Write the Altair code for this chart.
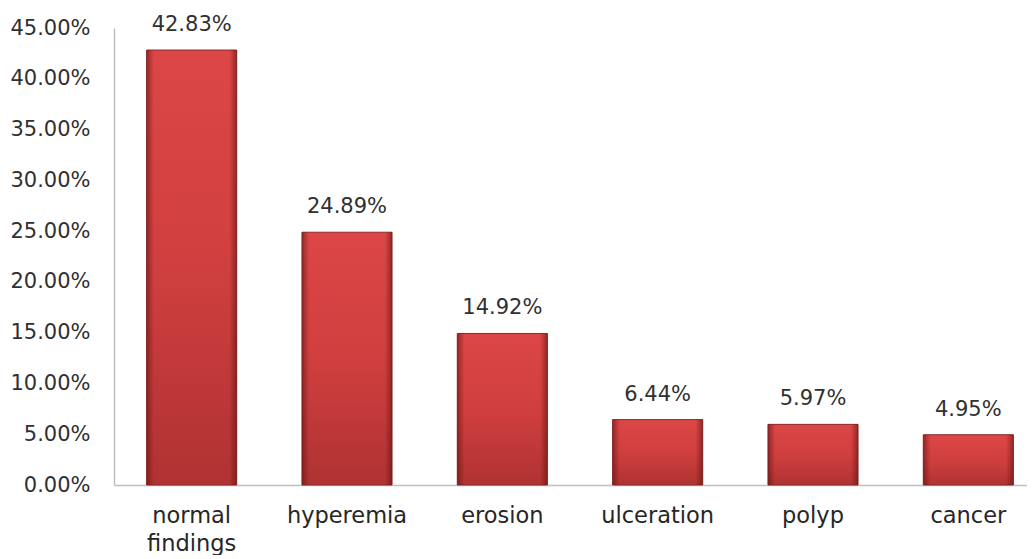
import altair as alt
import pandas as pd

categories = ["normal findings", "hyperemia", "erosion", "ulceration", "polyp", "cancer"]
values = [0.4283, 0.2489, 0.1492, 0.0644, 0.0597, 0.0495]
y_ticks = [0.0, 0.05, 0.10, 0.15, 0.20, 0.25, 0.30, 0.35, 0.40, 0.45]

df = pd.DataFrame({"category": categories, "value": values})

FONT = "DejaVu Sans"

x_enc = alt.X(
    "category:N",
    sort=categories,
    title=None,
    scale=alt.Scale(paddingInner=0.42, paddingOuter=0.21, range=[0, 932]),
    axis=alt.Axis(
        labelAngle=0,
        ticks=False,
        domainColor="#bfbfbf",
        domainWidth=1.5,
        labelFont=FONT,
        labelFontSize=22.5,
        labelColor="#262626",
        labelPadding=19,
        labelLineHeight=28,
        labelExpr="datum.label == 'normal findings' ? ['normal', 'findings'] : datum.label",
    ),
)
y_enc = alt.Y(
    "value:Q",
    title=None,
    scale=alt.Scale(domain=[0, 0.45], nice=False),
    axis=alt.Axis(
        values=y_ticks,
        format=".2%",
        grid=False,
        ticks=False,
        domainColor="#bfbfbf",
        domainWidth=1.5,
        labelFont=FONT,
        labelFontSize=21,
        labelColor="#303030",
        labelPadding=24,
    ),
)

base = alt.Chart(df)

bars = base.mark_bar(
    color=alt.Gradient(
        gradient="linear",
        x1=0, x2=0, y1=0, y2=1,
        stops=[
            alt.GradientStop(color="#dc4646", offset=0),
            alt.GradientStop(color="#d03f3f", offset=0.5),
            alt.GradientStop(color="#b03232", offset=1),
        ],
    ),
    stroke="#8e2a2a",
    strokeWidth=1,
).encode(x=x_enc, y=y_enc)

edges = base.mark_bar(
    color=alt.Gradient(
        gradient="linear",
        x1=0, x2=1, y1=0, y2=0,
        stops=[
            alt.GradientStop(color="rgba(90,15,15,0.55)", offset=0),
            alt.GradientStop(color="rgba(90,15,15,0.0)", offset=0.08),
            alt.GradientStop(color="rgba(90,15,15,0.0)", offset=0.92),
            alt.GradientStop(color="rgba(90,15,15,0.55)", offset=1),
        ],
    ),
).encode(x=x_enc, y=y_enc)

labels = base.mark_text(
    font=FONT,
    fontSize=21,
    color="#303030",
    baseline="alphabetic",
    dy=-19,
).encode(x=x_enc, y=y_enc, text=alt.Text("value:Q", format=".2%"))

chart = (
    alt.layer(bars, edges, labels)
    .properties(
        width=913,
        height=457,
        autosize=alt.AutoSizeParams(type="none"),
        padding={"left": 106, "top": 20, "right": 0, "bottom": 70},
        background="white",
    )
    .configure_view(stroke=None)
)

chart.save("out.html", embed_options={"renderer": "svg", "actions": False})
